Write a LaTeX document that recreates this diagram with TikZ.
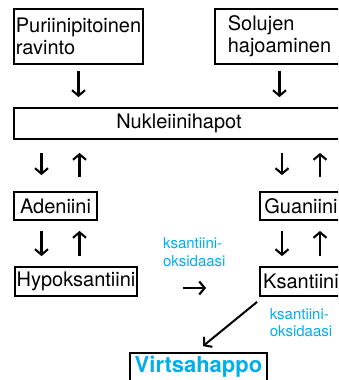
\documentclass[tikz,border=0pt]{standalone}
\usepackage{fontspec}
\setmainfont{TeX Gyre Heros}
\usetikzlibrary{arrows.meta,positioning}
\definecolor{enzblue}{HTML}{00AEEF}
\tikzset{
  box/.style={draw, line width=1.8pt, minimum height=28pt, inner sep=1pt,
    font=\fontsize{20}{22}\selectfont},
  flow/.style={-{Straight Barb[length=5.5pt,width=13pt]}, line width=2.1pt},
  enz/.style={text=enzblue, align=left, inner sep=0pt,
    font=\fontsize{15}{17.5}\selectfont},
}

\begin{document}
\begin{tikzpicture}[x=1pt,y=-1pt]
  \useasboundingbox (0,0) rectangle (338,380);
  \clip (0,0) rectangle (338,380);
  % sources
  \node[box, align=left, minimum width=129pt, minimum height=55pt] (puri) at (78.5,36.5) {Puriinipitoinen\\ravinto};
  \node[box, align=left, minimum width=129pt, minimum height=55pt] (solu) at (279.5,36.5) {Solujen\\hajoaminen};
  \node[box, minimum width=330pt, minimum height=31pt] (nukl) at (179,123.5) {Nukleiinihapot};
  % bases
  \node[box, minimum width=83pt] (aden) at (55.5,206) {Adeniini};
  \node[box, minimum width=82pt] (guan) at (301,206) {Guaniini};
  \node[box, minimum width=122pt, minimum height=29pt] (hypo) at (76,281.5) {Hypoksantiini};
  \node[box, minimum width=82pt, minimum height=29pt] (ksan) at (301,281.5) {Ksantiini};
  \node[box, minimum width=137pt, font=\fontsize{22}{24}\selectfont\bfseries, text=enzblue] (virt) at (198.5,367) {Virtsahappo};
  % enzyme labels
  \node[enz] (enzl) at (194.3,252) {ksantiini-\\oksidaasi};
  \node[enz] (enzr) at (301,322.8) {ksantiini-\\oksidaasi};
  % arrows into the nucleic acids
  \draw[flow, shorten <=6pt, shorten >=10pt] (puri) -- (puri |- nukl.north);
  \draw[flow, shorten <=6pt, shorten >=10pt] (solu) -- (solu |- nukl.north);
  % nucleic acids <-> bases
  \draw[flow, shorten <=13pt, shorten >=16pt] ([xshift=-14pt]aden.north |- nukl.south) -- ([xshift=-14pt]aden.north);
  \draw[flow, shorten <=14pt, shorten >=13pt] ([xshift=24pt]aden.north) -- ([xshift=24pt]aden.north |- nukl.south);
  \draw[flow, shorten <=13pt, shorten >=16pt] ([xshift=-19pt]guan.north |- nukl.south) -- ([xshift=-19pt]guan.north);
  \draw[flow, shorten <=14pt, shorten >=13pt] ([xshift=19pt]guan.north) -- ([xshift=19pt]guan.north |- nukl.south);
  % bases <-> hypoxanthine / xanthine
  \draw[flow, shorten <=10pt, shorten >=10pt] ([xshift=-14pt]aden.south) -- ([xshift=-14pt]aden.south |- hypo.north);
  \draw[flow, shorten <=10pt, shorten >=10pt] ([xshift=24pt]aden.south |- hypo.north) -- ([xshift=24pt]aden.south);
  \draw[flow, shorten <=10pt, shorten >=10pt] ([xshift=-19pt]guan.south) -- ([xshift=-19pt]guan.south |- ksan.north);
  \draw[flow, shorten <=10pt, shorten >=10pt] ([xshift=19pt]guan.south |- ksan.north) -- ([xshift=19pt]guan.south);
  % oxidation steps
  \draw[flow, shorten <=45pt, shorten >=53pt] ([yshift=-6.5pt]hypo.east) -- ([yshift=-6.5pt]hypo.east -| ksan.west);
  \draw[flow, line width=2pt] ([shift={(-2pt,-5pt)}]ksan.south west) -- ([shift={(4.5pt,6pt)}]virt.north);
\end{tikzpicture}
\end{document}
